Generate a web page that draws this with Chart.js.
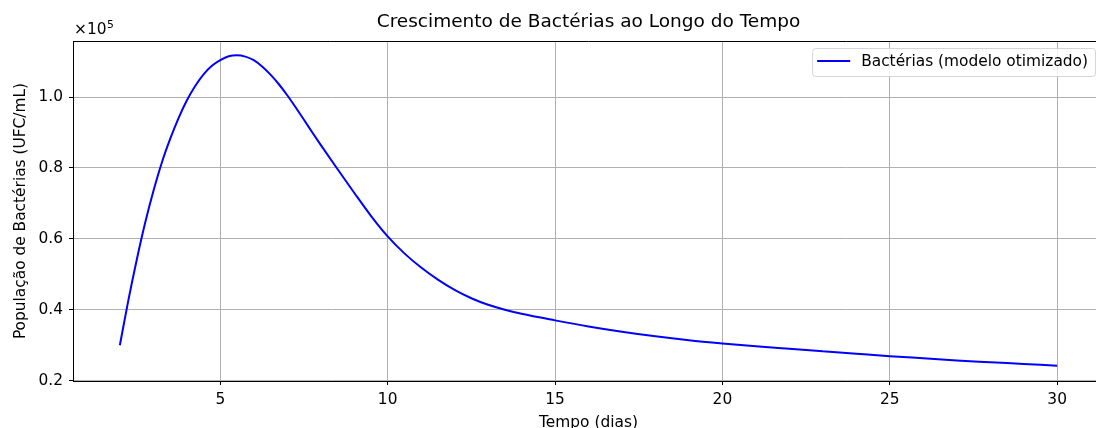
<!DOCTYPE html>
<html>
<head>
<meta charset="utf-8">
<script src="https://cdn.jsdelivr.net/npm/chart.js@4.4.1/dist/chart.umd.min.js"></script>
<style>
    html, body { margin: 0; padding: 0; overflow: hidden; background: #fff; }
    canvas { display: block; }
</style>
</head>
<body>
<canvas id="bacteriaChart" width="1104" height="440"></canvas>
<script>
//Time in days
const dias = [2, 2.25, 2.5, 2.75, 3, 3.25, 3.5, 3.75, 4, 4.25, 4.5, 4.75, 5, 5.25, 5.5, 5.75, 6,
    6.25, 6.5, 6.75, 7, 7.25, 7.5, 7.75, 8, 8.5, 9, 9.5, 10, 10.5, 11, 11.5, 12, 12.5, 13, 13.5, 14,
    15, 16, 17, 18, 19, 20, 21, 22, 23, 24, 25, 26, 27, 28, 29, 30];
//Population in UFC/mL
const populacao = [30000, 42500, 53900, 64300, 73400, 81400, 88100, 94000, 99000, 103100, 106400, 108800, 110400, 111500, 111800, 111400, 110400,
    108600, 106300, 103600, 100500, 97100, 93600, 90000, 86500, 79700, 73000, 66500, 60700, 55900, 51900, 48500, 45600, 43250, 41400, 40000, 38850,
    37000, 35300, 33800, 32500, 31400, 30500, 29700, 29000, 28300, 27600, 26900, 26300, 25700, 25200, 24700, 24200];

const xTicks = [5, 10, 15, 20, 25, 30];
const yTicks = [20000, 40000, 60000, 80000, 100000];

const X_MIN = 0.6;
const X_MAX = 31.4;
const Y_MIN = 19900;
const Y_MAX = 115800;

const SERIES_LABEL = 'Bactérias (modelo otimizado)';
const LINE_COLOR = '#0000ff';
const FONT = 'DejaVu Sans';
const TICK_SIZE = 15.4;

Chart.defaults.font.family = FONT;
Chart.defaults.color = '#000';

let points = dias.map((d, i) => ({x: d, y: populacao[i]}));

//Draws the top spine, the x10^5 offset text and the legend box
const extrasPlugin = {
    id: 'extras',
    afterDraw(chart) {
        const ctx = chart.ctx;
        const area = chart.chartArea;
        ctx.save();
        ctx.strokeStyle = '#000';
        ctx.lineWidth = 1;
        ctx.beginPath();
        ctx.moveTo(area.left, area.top + 0.5);
        ctx.lineTo(area.right, area.top + 0.5);
        ctx.stroke();

        //offset text of the y axis
        ctx.fillStyle = '#000';
        ctx.textAlign = 'left';
        ctx.textBaseline = 'alphabetic';
        ctx.font = TICK_SIZE + 'px "' + FONT + '"';
        ctx.fillText('×10', area.left + 1, area.top - 7);
        let w = ctx.measureText('×10').width;
        ctx.font = '10.8px "' + FONT + '"';
        ctx.fillText('5', area.left + 1 + w + 0.5, area.top - 13);

        //legend
        const ds = chart.data.datasets[0];
        ctx.font = TICK_SIZE + 'px "' + FONT + '"';
        let textW = ctx.measureText(ds.label).width;
        let boxRight = area.right - 9;
        let boxLeft = boxRight - (5 + 33 + 11 + textW + 7);
        let boxTop = area.top + 7;
        let boxH = 28;
        ctx.beginPath();
        ctx.roundRect(boxLeft + 0.5, boxTop + 0.5, boxRight - boxLeft, boxH, 3);
        ctx.fillStyle = 'rgba(255,255,255,0.8)';
        ctx.fill();
        ctx.strokeStyle = 'rgba(204,204,204,0.8)';
        ctx.stroke();
        ctx.strokeStyle = ds.borderColor;
        ctx.lineWidth = 2;
        ctx.beginPath();
        ctx.moveTo(boxLeft + 5, boxTop + 13);
        ctx.lineTo(boxLeft + 38, boxTop + 13);
        ctx.stroke();
        ctx.fillStyle = '#000';
        ctx.textBaseline = 'middle';
        ctx.fillText(ds.label, boxLeft + 49, boxTop + 13.5);
        ctx.restore();
    }
};

const chart = new Chart(document.getElementById('bacteriaChart'), {
    type: 'line',
    data: {
        datasets: [{
            label: SERIES_LABEL,
            data: points,
            borderColor: LINE_COLOR,
            backgroundColor: LINE_COLOR,
            borderWidth: 2,
            pointRadius: 0,
            fill: false,
            cubicInterpolationMode: 'monotone'
        }]
    },
    options: {
        responsive: false,
        animation: false,
        layout: { padding: 0 },
        plugins: {
            legend: { display: false },
            tooltip: { enabled: false },
            title: {
                display: true,
                fullSize: false,
                text: 'Crescimento de Bactérias ao Longo do Tempo',
                color: '#000',
                font: { size: 18.5, weight: 'normal' },
                padding: { top: 11, bottom: 7.8 }
            }
        },
        scales: {
            x: {
                type: 'linear',
                min: X_MIN,
                max: X_MAX,
                afterBuildTicks: (scale) => { scale.ticks = xTicks.map(v => ({value: v})); },
                afterFit: (scale) => { scale.height = 59; },
                ticks: {
                    font: { size: TICK_SIZE },
                    padding: 6,
                    maxRotation: 0,
                    callback: (v) => String(v)
                },
                grid: { color: '#b0b0b0', lineWidth: 1, tickColor: '#000', tickLength: 4, tickWidth: 1 },
                border: { color: '#000', width: 1 },
                title: {
                    display: true,
                    text: 'Tempo (dias)',
                    font: { size: TICK_SIZE },
                    padding: { top: 0, bottom: 8 }
                }
            },
            y: {
                type: 'linear',
                min: Y_MIN,
                max: Y_MAX,
                afterBuildTicks: (scale) => { scale.ticks = yTicks.map(v => ({value: v})); },
                afterFit: (scale) => { scale.width = 73; },
                ticks: {
                    font: { size: TICK_SIZE },
                    padding: 6,
                    callback: (v) => (v / 100000).toFixed(1)
                },
                grid: { color: '#b0b0b0', lineWidth: 1, tickColor: '#000', tickLength: 4, tickWidth: 1 },
                border: { color: '#000', width: 1 },
                title: {
                    display: true,
                    text: 'População de Bactérias (UFC/mL)',
                    font: { size: TICK_SIZE },
                    padding: { top: 11.8, bottom: 0 }
                }
            }
        }
    },
    plugins: [extrasPlugin]
});
</script>
</body>
</html>
